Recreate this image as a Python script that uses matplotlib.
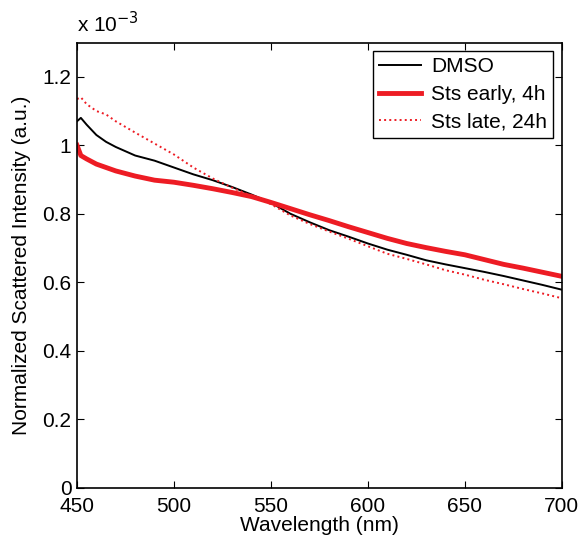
import matplotlib
matplotlib.use('Agg')
import matplotlib.pyplot as plt
from matplotlib.ticker import FuncFormatter

# Longueurs d'onde (nm)
wavelength = [450, 452, 455, 460, 465, 470, 480, 490, 500, 510, 520, 530, 540,
              550, 560, 570, 580, 590, 600, 610, 620, 630, 640, 650, 660, 670,
              680, 690, 700]

# Intensités normalisées (x 1e-3)
dmso = [1.07, 1.08, 1.06, 1.03, 1.01, 0.995, 0.97, 0.955, 0.935, 0.915, 0.898,
        0.878, 0.856, 0.832, 0.800, 0.775, 0.752, 0.733, 0.713, 0.695, 0.680,
        0.664, 0.652, 0.641, 0.630, 0.618, 0.605, 0.592, 0.578]
sts_early = [1.00, 0.97, 0.96, 0.945, 0.935, 0.925, 0.91, 0.898, 0.892, 0.883,
             0.873, 0.862, 0.850, 0.833, 0.815, 0.797, 0.780, 0.762, 0.745,
             0.728, 0.713, 0.701, 0.690, 0.680, 0.666, 0.652, 0.641, 0.629, 0.617]
sts_late = [1.135, 1.14, 1.12, 1.10, 1.09, 1.07, 1.037, 1.005, 0.973, 0.935,
            0.903, 0.876, 0.852, 0.828, 0.795, 0.770, 0.748, 0.727, 0.705,
            0.683, 0.668, 0.652, 0.635, 0.622, 0.607, 0.594, 0.580, 0.567, 0.553]

labels = ['DMSO', 'Sts early, 4h', 'Sts late, 24h']
rouge = '#ED1C24'

plt.rcParams['font.family'] = ['Liberation Sans', 'DejaVu Sans']

fig = plt.figure(figsize=(5.81, 5.39), dpi=100)
ax = fig.add_axes([0.1325, 0.0955, 0.8345, 0.8255])

ax.plot(wavelength, [v * 1e-3 for v in dmso], color='black', lw=1.4, label=labels[0])
ax.plot(wavelength, [v * 1e-3 for v in sts_early], color=rouge, lw=3.5, label=labels[1])
ax.plot(wavelength, [v * 1e-3 for v in sts_late], color=rouge, lw=1.4, ls=':', label=labels[2])

ax.set_xlim(450, 700)
ax.set_ylim(0, 1.3e-3)
ax.set_xticks([450, 500, 550, 600, 650, 700])
ax.set_yticks([i * 0.2e-3 for i in range(7)])
ax.yaxis.set_major_formatter(FuncFormatter(lambda v, p: f"{v * 1e3:g}"))
ax.tick_params(direction='in', top=True, right=True, length=5, labelsize=15)
ax.tick_params(axis='x', pad=7)
ax.tick_params(axis='y', pad=4)
for s in ax.spines.values():
    s.set_linewidth(1.2)

ax.set_xlabel('Wavelength (nm)', fontsize=15, labelpad=0)
ax.set_ylabel('Normalized Scattered Intensity (a.u.)', fontsize=15, labelpad=8)
ax.text(0.0, 1.015, r'x 10$^{-3}$', transform=ax.transAxes, fontsize=15,
        ha='left', va='bottom')

leg = ax.legend(loc='upper right', fontsize=15, fancybox=False, edgecolor='black',
                framealpha=1, handlelength=2.0, labelspacing=0.42,
                borderaxespad=0.4, handletextpad=0.5, borderpad=0.3)
leg.get_frame().set_linewidth(1.0)

plt.savefig('out.png', dpi=100)
